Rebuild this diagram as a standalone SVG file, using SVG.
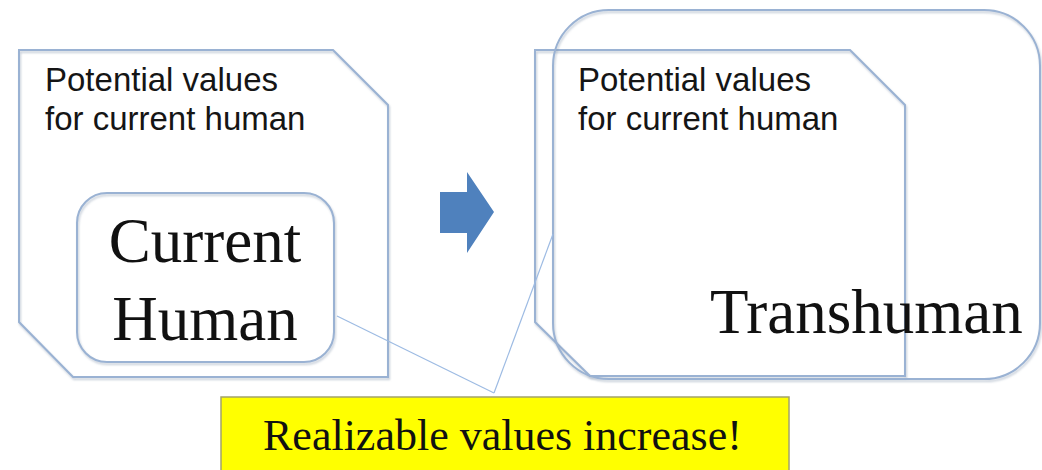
<svg xmlns="http://www.w3.org/2000/svg" width="1042" height="470" viewBox="0 0 1042 470">
<style>
.shape{fill:none;stroke:#9ab2d3;stroke-width:2}
.conn{fill:none;stroke:#9dbbe3;stroke-width:1.2}
.sans{font-family:"Liberation Sans",Arial,sans-serif;font-size:33px;fill:#151515}
.serif{font-family:"Liberation Serif","Times New Roman",serif;fill:#111}
</style>
<defs>
<filter id="sh" x="-5%" y="-5%" width="110%" height="110%">
<feDropShadow dx="1" dy="2" stdDeviation="1" flood-color="#7f8fa8" flood-opacity="0.45"/>
</filter>
</defs>
<rect width="1042" height="470" fill="#ffffff"/>
<g id="left-potential">
<path class="shape" filter="url(#sh)" d="M19,50 L333,50 L388,105 L388,377 L73,377 L19,322 Z"/>
<text class="sans" x="45" y="91">Potential values</text>
<text class="sans" x="45" y="130">for current human</text>
</g>
<g id="current-human">
<rect class="shape" filter="url(#sh)" x="77" y="193" width="257" height="169" rx="30"/>
<text class="serif" font-size="63" text-anchor="middle" x="205" y="262">Current</text>
<text class="serif" font-size="63" text-anchor="middle" x="205" y="340">Human</text>
</g>
<g id="arrow">
<polygon points="440,192 467,192 467,172 494,212 467,253 467,233 440,233" fill="#4f81bd"/>
</g>
<g id="right-potential">
<path class="shape" filter="url(#sh)" d="M535,50 L850,50 L905,105 L905,376 L590,376 L535,322 Z"/>
<text class="sans" x="578" y="91">Potential values</text>
<text class="sans" x="578" y="130">for current human</text>
</g>
<g id="transhuman">
<rect class="shape" filter="url(#sh)" x="553" y="10" width="487" height="369" rx="56"/>
<text class="serif" font-size="63" x="710" y="333">Transhuman</text>
</g>
<g id="connectors">
<line class="conn" x1="337" y1="316" x2="494" y2="393"/>
<line class="conn" x1="553" y1="234" x2="494" y2="393"/>
</g>
<g id="callout">
<rect x="221" y="397" width="568" height="80" fill="#ffff00" stroke="#a3a36a" stroke-width="1.5"/>
<text class="serif" font-size="44" x="263" y="450">Realizable values increase!</text>
</g>
</svg>
